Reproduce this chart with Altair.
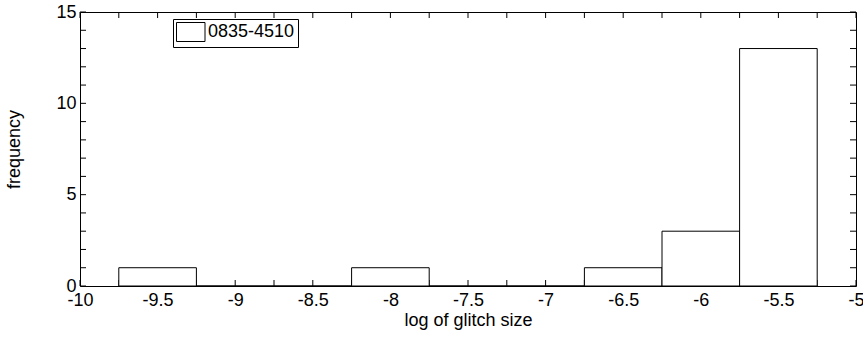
import altair as alt
import pandas as pd

# Data
bin_centers = [-9.5, -9.0, -8.5, -8.0, -7.5, -7.0, -6.5, -6.0, -5.5]
counts = [1, 0, 0, 1, 0, 0, 1, 3, 13]
series_name = "0835-4510"

x_label_ticks = [-10, -9.5, -9, -8.5, -8, -7.5, -7, -6.5, -6, -5.5, -5]
x_minor_ticks = [-10, -9.75, -9.5, -9.25, -9, -8.75, -8.5, -8.25, -8, -7.75, -7.5,
                 -7.25, -7, -6.75, -6.5, -6.25, -6, -5.75, -5.5, -5.25, -5]
y_label_ticks = [0, 5, 10, 15]
y_minor_ticks = [0, 1, 2, 3, 4, 5, 6, 7, 8, 9, 10, 11, 12, 13, 14, 15]

FONT = "Liberation Sans"
FS = 18
W, H = 776, 274

bars_df = pd.DataFrame({"center": bin_centers, "count": counts, "series": series_name})
xt_df = pd.DataFrame({"v": x_minor_ticks})
yt_df = pd.DataFrame({"v": y_minor_ticks})

xscale = alt.Scale(domain=[-10, -5], nice=False, zero=False)
yscale = alt.Scale(domain=[0, 15], nice=False)

x_axis = alt.Axis(values=x_label_ticks, tickSize=0, domain=False, grid=False,
                  labelExpr="datum.value + ''", labelFont=FONT, labelFontSize=FS,
                  labelColor="black", labelPadding=5, labelFlush=False, labelOverlap=False,
                  title="log of glitch size", titleFont=FONT, titleFontSize=FS,
                  titleFontWeight="normal", titleColor="black", titlePadding=2)
y_axis = alt.Axis(values=y_label_ticks, tickSize=0, domain=False, grid=False,
                  labelFont=FONT, labelFontSize=FS, labelColor="black", labelPadding=4,
                  labelFlush=False, labelOverlap=False,
                  title="frequency", titleFont=FONT, titleFontSize=FS,
                  titleFontWeight="normal", titleColor="black", titlePadding=32)

bars = alt.Chart(bars_df).transform_calculate(
    x0="datum.center - 0.25", x1="datum.center + 0.25"
).mark_rect(stroke="black", strokeWidth=1).encode(
    x=alt.X("x0:Q", scale=xscale, axis=x_axis),
    x2="x1:Q",
    y=alt.Y("count:Q", scale=yscale, axis=y_axis),
    y2=alt.datum(0),
    fill=alt.Fill("series:N",
                  scale=alt.Scale(domain=[series_name], range=["white"]),
                  legend=alt.Legend(title=None, orient="none", legendX=93, legendY=7,
                                    padding=3, strokeColor="black", fillColor="white",
                                    symbolType="M-1,-1H2V1H-1Z", symbolSize=361,
                                    symbolStrokeColor="black", symbolStrokeWidth=1,
                                    labelFont=FONT, labelFontSize=FS, labelColor="black",
                                    labelOffset=12)),
)

tick_len = 6
xb = alt.Chart(xt_df).mark_rule(color="black", strokeWidth=1).encode(
    x=alt.X("v:Q", scale=xscale), y=alt.value(H), y2=alt.value(H - tick_len))
xtp = alt.Chart(xt_df).mark_rule(color="black", strokeWidth=1).encode(
    x=alt.X("v:Q", scale=xscale), y=alt.value(0), y2=alt.value(tick_len))
yl = alt.Chart(yt_df).mark_rule(color="black", strokeWidth=1).encode(
    y=alt.Y("v:Q", scale=yscale), x=alt.value(0), x2=alt.value(tick_len))
yr = alt.Chart(yt_df).mark_rule(color="black", strokeWidth=1).encode(
    y=alt.Y("v:Q", scale=yscale), x=alt.value(W), x2=alt.value(W - tick_len))

chart = alt.layer(xb, xtp, yl, yr, bars).properties(
    width=W, height=H,
    autosize=alt.AutoSizeParams(type="none"),
    padding={"left": 80, "top": 12, "right": 7, "bottom": 52},
    background="white",
).configure_view(stroke="black", strokeWidth=1)

chart.save("out.html", embed_options={"renderer": "svg", "actions": False})
